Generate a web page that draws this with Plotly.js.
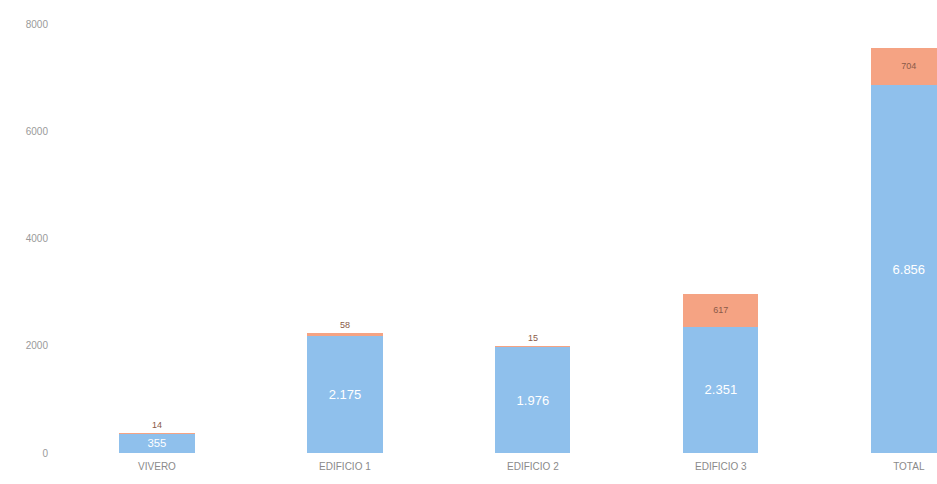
<!DOCTYPE html>
<html>
<head>
<meta charset="utf-8">
<script src="https://cdn.plot.ly/plotly-3.0.1.min.js"></script>
<style>html,body{margin:0;padding:0;background:#fff;}#chart{width:937px;height:484px;}</style>
</head>
<body>
<div id="chart"></div>
<script>
const categories = ["VIVERO", "EDIFICIO 1", "EDIFICIO 2", "EDIFICIO 3", "TOTAL"];
const baseValues = [355, 2175, 1976, 2351, 6856];
const extraValues = [14, 58, 15, 617, 704];
const yTicks = [0, 2000, 4000, 6000, 8000];

const traces = [
  {
    type: "bar", x: categories, y: baseValues, name: "base",
    marker: {color: "#8fc0ec"},
    texttemplate: "%{y:,}", textposition: "inside", insidetextanchor: "middle",
    textfont: {color: "#ffffff", size: 13, family: "Liberation Sans, Arial"},
    hoverinfo: "none"
  },
  {
    type: "bar", x: categories, y: extraValues, name: "extra",
    marker: {color: "#f5a383"},
    texttemplate: "%{y:,}", textposition: ["outside", "outside", "outside", "inside", "inside"],
    insidetextanchor: "middle", cliponaxis: false,
    textfont: {color: "#8a5a48", size: 9, family: "Liberation Sans, Arial"},
    hoverinfo: "none"
  }
];

const layout = {
  width: 937, height: 484,
  barmode: "stack", bargap: 0.6,
  showlegend: false,
  separators: ",.",
  paper_bgcolor: "#ffffff", plot_bgcolor: "#ffffff",
  margin: {l: 63, r: 0, t: 24, b: 31},
  xaxis: {
    range: [-0.5, 4.15], showgrid: false, zeroline: false, showline: false,
    tickfont: {size: 10, color: "#8a8a8a", family: "Liberation Sans, Arial"},
    ticks: "", ticklabelstandoff: 6
  },
  yaxis: {
    range: [0, 8000], tickvals: yTicks, ticktext: yTicks.map(String),
    showgrid: false, zeroline: false, showline: false,
    tickfont: {size: 10, color: "#9a9a9a", family: "Liberation Sans, Arial"},
    ticks: "", ticklabelstandoff: 14
  }
};

Plotly.newPlot("chart", traces, layout, {staticPlot: true});
</script>
</body>
</html>
